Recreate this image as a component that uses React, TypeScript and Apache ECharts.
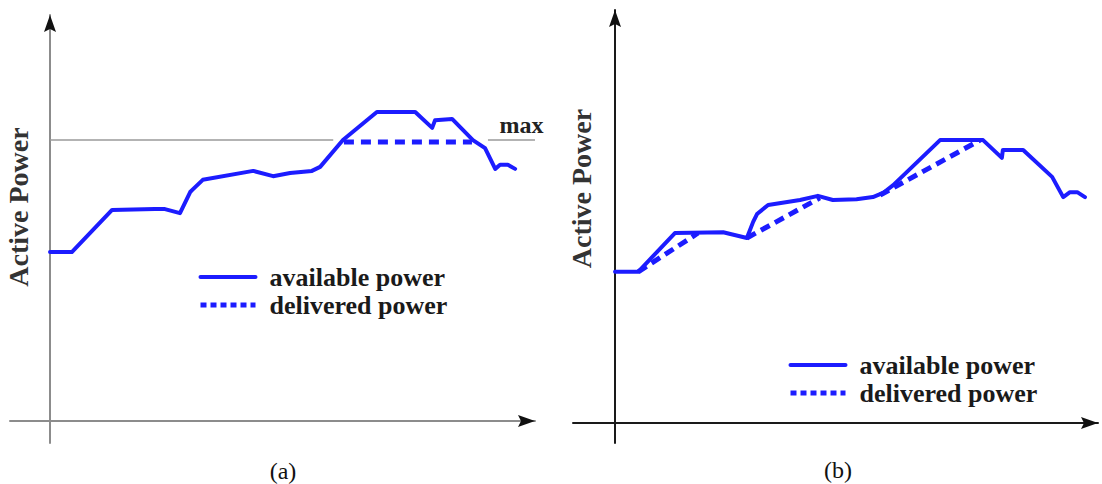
import React, { useEffect, useRef } from "react";
import * as echarts from "echarts";

// ---- Panel (a): curtailment at a maximum level ----
const availableA: [number, number][] = [
  [0, 41.6], [4.5, 41.6], [12.8, 52.0], [21.6, 52.2], [23.7, 52.2], [26.8, 51.2],
  [28.9, 56.4], [29.5, 57.1], [31.5, 59.4], [41.9, 61.6], [46.0, 60.3], [49.5, 61.1],
  [54.0, 61.6], [55.7, 62.6], [60.4, 69.2], [67.4, 76.1], [75.3, 76.1], [78.8, 72.2],
  [79.4, 74.1], [82.9, 74.4], [87.2, 69.2], [89.7, 67.2], [91.8, 62.1], [92.8, 63.1],
  [94.4, 63.1], [95.9, 62.1],
];
const deliveredA: [number, number][] = [[60.6, 68.7], [87.0, 68.7]];
const MAX_LEVEL = 69.2;
const maxLineSegments: [number, number][] = [[0, 58.4], [90.3, 100]];

// ---- Panel (b): ramp-rate limitation ----
const availableB: [number, number][] = [
  [0, 36.6], [4.8, 36.6], [12.4, 46.0], [22.4, 46.2], [27.3, 44.8], [28.6, 48.7],
  [29.4, 50.6], [31.7, 52.8], [38.3, 54.0], [42.0, 55.0], [45.1, 54.0], [50.0, 54.2],
  [53.4, 54.7], [55.5, 55.7], [57.6, 57.6], [67.3, 68.5], [76.2, 68.5], [80.1, 64.2],
  [80.3, 66.1], [84.5, 66.1], [90.5, 59.6], [92.8, 54.7], [94.2, 55.9], [95.7, 55.9],
  [97.3, 54.7],
];
const deliveredB: [number, number | string][] = [
  [4.8, 36.6], [17.2, 46.0], [17.2, "-"],
  [27.3, 44.8], [42.4, 54.5], [42.4, "-"],
  [54.9, 55.2], [75.6, 68.5],
];

const legendNames = ["available power", "delivered power"];
const captions = ["(a)", "(b)"];
const axisTitle = "Active Power";

const BLUE = "#1c1cff";
const SERIF = "'Liberation Serif', 'Times New Roman', serif";

export default function App() {
  const ref = useRef<HTMLDivElement>(null);

  useEffect(() => {
    if (!ref.current) return;
    const chart = echarts.init(ref.current, undefined, { renderer: "svg" });

    const axisCommon = {
      type: "value" as const,
      axisTick: { show: false },
      axisLabel: { show: false },
      splitLine: { show: false },
    };
    const yName = (pad: number) => ({
      name: axisTitle,
      nameLocation: "middle" as const,
      nameRotate: 90,
      nameGap: -22,
      nameTextStyle: {
        fontFamily: SERIF,
        fontWeight: "bold" as const,
        fontSize: 28,
        color: "#333",
        padding: [0, 0, 0, pad],
      },
    });

    const legendCommon = {
      orient: "vertical" as const,
      itemWidth: 55,
      itemHeight: 14,
      itemGap: 2,
      selectedMode: false,
      itemStyle: { opacity: 0 },
      textStyle: {
        fontFamily: SERIF,
        fontWeight: "bold" as const,
        fontSize: 26,
        lineHeight: 26,
        color: "#1a1a1a",
        padding: [0, 0, 0, 9],
      },
      data: [
        { name: legendNames[0], lineStyle: { width: 4 } },
        { name: legendNames[1], lineStyle: { width: 5, type: [6, 4] } },
      ],
    };

    const option: any = {
      animation: false,
      backgroundColor: "#ffffff",
      grid: [
        { left: 10, top: 15, width: 525, height: 428, outerBoundsMode: "none", containLabel: false },
        { left: 573, top: 10, width: 525, height: 433, outerBoundsMode: "none", containLabel: false },
      ],
      xAxis: [
        {
          ...axisCommon, gridIndex: 0, min: -8.25, max: 100,
          axisLine: { show: true, onZero: true, lineStyle: { color: "#8c8c8c", width: 2 } },
        },
        {
          ...axisCommon, gridIndex: 1, min: -8.7, max: 100,
          axisLine: { show: true, onZero: true, lineStyle: { color: "#1a1a1a", width: 2 } },
        },
      ],
      yAxis: [
        {
          ...axisCommon, ...yName(44), gridIndex: 0, min: -5.42, max: 100,
          axisLine: { show: true, onZero: true, lineStyle: { color: "#8c8c8c", width: 2 } },
        },
        {
          ...axisCommon, ...yName(76), gridIndex: 1, min: -4.84, max: 100,
          axisLine: { show: true, onZero: true, lineStyle: { color: "#1a1a1a", width: 2 } },
        },
      ],
      legend: [
        { ...legendCommon, left: 193, top: 259 },
        { ...legendCommon, left: 783, top: 347 },
      ],
      series: [
        {
          name: "max",
          type: "line",
          xAxisIndex: 0,
          yAxisIndex: 0,
          data: [],
          silent: true,
          markLine: {
            silent: true,
            symbol: ["none", "none"],
            lineStyle: { color: "#9a9a9a", width: 1.5, type: "solid" },
            label: { show: false },
            data: maxLineSegments.map((seg, i) => [
              {
                coord: [seg[0], MAX_LEVEL],
                label: i === 1
                  ? {
                      show: true,
                      formatter: "max",
                      position: "insideMiddleTop",
                      distance: 3,
                      padding: [0, 0, 0, 20],
                      fontFamily: SERIF,
                      fontWeight: "bold",
                      fontSize: 24,
                      color: "#222",
                    }
                  : { show: false },
              },
              { coord: [seg[1], MAX_LEVEL] },
            ]),
          },
        },
        {
          name: legendNames[1], type: "line", xAxisIndex: 0, yAxisIndex: 0,
          data: deliveredA, symbol: "none", z: 2,
          lineStyle: { color: BLUE, width: 5, type: [10, 7], cap: "butt" },
          itemStyle: { color: BLUE },
        },
        {
          name: legendNames[0], type: "line", xAxisIndex: 0, yAxisIndex: 0,
          data: availableA, symbol: "none", z: 3,
          lineStyle: { color: BLUE, width: 4, join: "round", cap: "round" },
          itemStyle: { color: BLUE },
        },
        {
          name: legendNames[1], type: "line", xAxisIndex: 1, yAxisIndex: 1,
          data: deliveredB, symbol: "none", z: 2, connectNulls: false,
          lineStyle: { color: BLUE, width: 5, type: [10, 6], cap: "butt" },
          itemStyle: { color: BLUE },
        },
        {
          name: legendNames[0], type: "line", xAxisIndex: 1, yAxisIndex: 1,
          data: availableB, symbol: "none", z: 3,
          lineStyle: { color: BLUE, width: 4, join: "round", cap: "round" },
          itemStyle: { color: BLUE },
        },
      ],
    };
    chart.setOption(option);

    // arrow heads at axis ends, positioned through the axes
    const extras: any[] = [];
    [0, 1].forEach((g) => {
      const xe = chart.convertToPixel({ xAxisIndex: g, yAxisIndex: g }, [100, 0]) as number[];
      const ye = chart.convertToPixel({ xAxisIndex: g, yAxisIndex: g }, [0, 100]) as number[];
      extras.push({
        type: "polygon",
        shape: { points: [[xe[0], xe[1]], [xe[0] - 17, xe[1] - 6], [xe[0] - 14, xe[1]], [xe[0] - 17, xe[1] + 6]] },
        style: { fill: "#111" },
        z: 10,
      });
      extras.push({
        type: "polygon",
        shape: { points: [[ye[0], ye[1]], [ye[0] - 6, ye[1] + 17], [ye[0], ye[1] + 14], [ye[0] + 6, ye[1] + 17]] },
        style: { fill: "#111" },
        z: 10,
      });
    });
    const capPos = [
      { x: 283, y: 471 },
      { x: 838, y: 470 },
    ];
    captions.forEach((c, i) => {
      extras.push({
        type: "text",
        x: capPos[i].x,
        y: capPos[i].y,
        style: {
          text: c,
          fontFamily: SERIF,
          fontSize: 24,
          fill: "#111",
          align: "center",
          verticalAlign: "middle",
        },
      });
    });
    chart.setOption({ graphic: extras });

    return () => chart.dispose();
  }, []);

  return (
    <div
      ref={ref}
      style={{ position: "absolute", left: 0, top: 0, width: 1102, height: 484, background: "#fff" }}
    />
  );
}
